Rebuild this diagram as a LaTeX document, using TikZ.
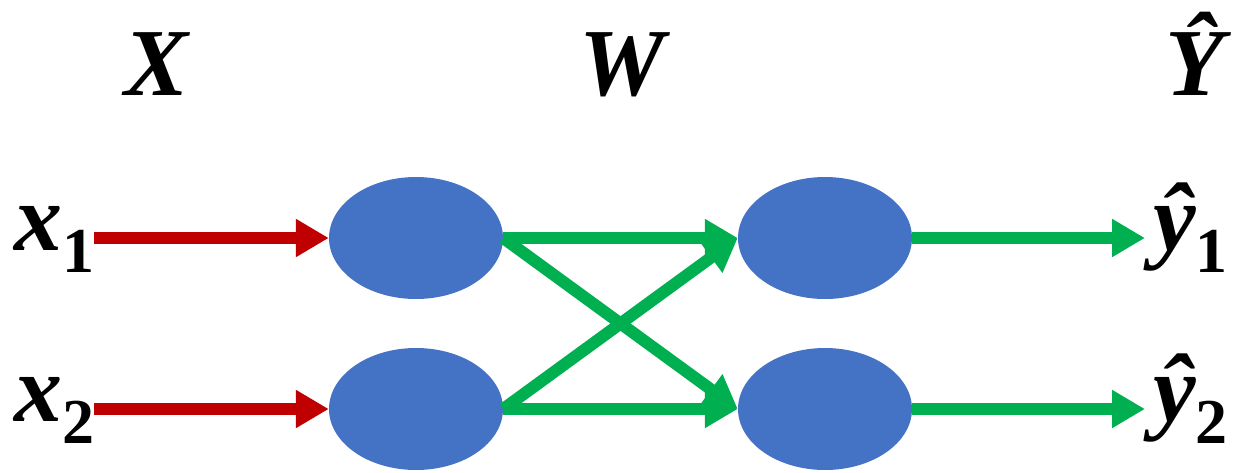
\documentclass[tikz,border=0pt]{standalone}
\usepackage{fontspec}
\newfontfamily\tnr{Liberation Serif}[UprightFont={* Bold},ItalicFont={* Bold Italic},BoldFont={* Bold},BoldItalicFont={* Bold Italic}]
\usetikzlibrary{arrows.meta,shapes.geometric}
\definecolor{nodeblue}{HTML}{4472C4}
\definecolor{ingred}{HTML}{C00000}
\definecolor{wgreen}{HTML}{00B050}
\newcommand{\bigtxt}{\tnr\fontsize{96}{96}\selectfont\itshape}
\newcommand{\subtxt}[1]{\raisebox{-22pt}{\tnr\fontsize{64}{64}\selectfont\upshape #1}}
\begin{document}
\begin{tikzpicture}[x=1pt,y=-1pt,
  neuron/.style={ellipse,fill=nodeblue,draw=none,minimum width=174pt,minimum height=122pt,inner sep=0pt},
  lbl/.style={inner sep=0pt,outer sep=0pt},
  redarrow/.style={draw=ingred,line width=12pt,-{Triangle[length=33pt,width=36pt]}},
  greenarrow/.style={draw=wgreen,line width=12pt,-{Triangle[length=33pt,width=36pt]}}]
\useasboundingbox (0,0) rectangle (1240,472);
% column titles
\node[lbl,anchor=base] (tX) at (157,95) {\bigtxt X};
\node[lbl,anchor=base] (tW) at (622,95) {\bigtxt W};
\node[lbl,anchor=base] (tY) at (1195,95) {\bigtxt Ŷ};
% neurons
\node[neuron] (h1) at (416,238) {};
\node[neuron] (h2) at (416,409) {};
\node[neuron] (o1) at (825,238) {};
\node[neuron] (o2) at (825,409) {};
% input labels
\node[lbl,anchor=base west] (x1) at (14,250) {\bigtxt x\subtxt{1}};
\node[lbl,anchor=base west] (x2) at (14,421) {\bigtxt x\subtxt{2}};
% output labels
\node[lbl,anchor=base west] (y1) at (1153,250) {\bigtxt ŷ\subtxt{1}};
\node[lbl,anchor=base west] (y2) at (1153,421) {\bigtxt ŷ\subtxt{2}};
% connectors
\draw[redarrow] (x1.east |- h1.west) -- (h1.west);
\draw[redarrow] (x2.east |- h2.west) -- (h2.west);
\draw[greenarrow] (h1.east) -- (o1.west);
\draw[greenarrow] (h1.east) -- (o2.west);
\draw[greenarrow] (h2.east) -- (o1.west);
\draw[greenarrow] (h2.east) -- (o2.west);
\draw[greenarrow] (o1.east) -- (1145,238);
\draw[greenarrow] (o2.east) -- (1145,409);
\end{tikzpicture}
\end{document}
